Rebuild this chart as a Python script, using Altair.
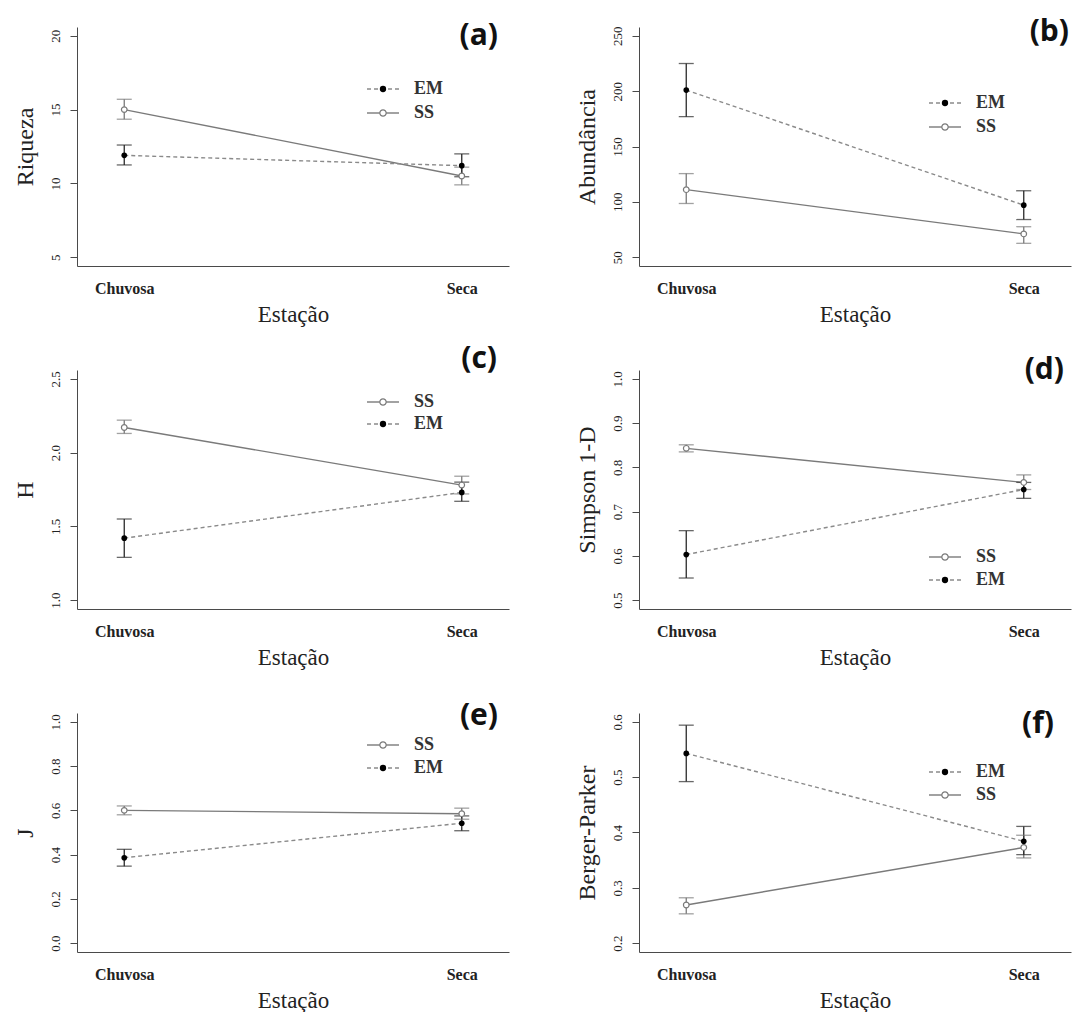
import altair as alt
import pandas as pd

estacoes = ["Chuvosa", "Seca"]
grupos = ["EM", "SS"]

# (a) Riqueza
riq_em = [11.9, 11.2]
riq_em_lo = [11.25, 10.45]
riq_em_hi = [12.6, 12.0]
riq_ss = [15.0, 10.5]
riq_ss_lo = [14.35, 9.9]
riq_ss_hi = [15.7, 11.1]

# (b) Abundância
abu_em = [201, 97]
abu_em_lo = [177, 84]
abu_em_hi = [225, 110]
abu_ss = [111, 71]
abu_ss_lo = [98.5, 62.5]
abu_ss_hi = [125.5, 77.5]

# (c) H
h_em = [1.42, 1.73]
h_em_lo = [1.29, 1.67]
h_em_hi = [1.55, 1.80]
h_ss = [2.17, 1.78]
h_ss_lo = [2.13, 1.72]
h_ss_hi = [2.22, 1.84]

# (d) Simpson 1-D
sim_em = [0.603, 0.750]
sim_em_lo = [0.550, 0.730]
sim_em_hi = [0.657, 0.766]
sim_ss = [0.843, 0.766]
sim_ss_lo = [0.835, 0.750]
sim_ss_hi = [0.851, 0.783]

# (e) J
j_em = [0.386, 0.542]
j_em_lo = [0.348, 0.508]
j_em_hi = [0.424, 0.575]
j_ss = [0.600, 0.585]
j_ss_lo = [0.580, 0.560]
j_ss_hi = [0.620, 0.610]

# (f) Berger-Parker
bp_em = [0.543, 0.384]
bp_em_lo = [0.492, 0.360]
bp_em_hi = [0.594, 0.411]
bp_ss = [0.269, 0.373]
bp_ss_lo = [0.253, 0.354]
bp_ss_hi = [0.282, 0.395]

SERIF = "Liberation Serif"
W, H = 432, 239
SS_COLOR = "#7a7a7a"
EM_LINE = "#8a8a8a"
EM_BAR = "#2a2a2a"
AX = "#4a4a4a"


def make_df(em, em_lo, em_hi, ss, ss_lo, ss_hi):
    rows = []
    for i, e in enumerate(estacoes):
        rows.append({"estacao": e, "grupo": "EM", "media": em[i], "lo": em_lo[i], "hi": em_hi[i]})
        rows.append({"estacao": e, "grupo": "SS", "media": ss[i], "lo": ss_lo[i], "hi": ss_hi[i]})
    return pd.DataFrame(rows)


def panel(df, ytitle, ydomain, yticks, yfmt, letter, letter_xy, legend_order, legend_y):
    xenc = alt.X(
        "estacao:N", sort=estacoes,
        scale=alt.Scale(type="point", padding=0.14),
        axis=alt.Axis(title="Estação", labelAngle=0, ticks=False, tickSize=0,
                      labelPadding=27, labelBaseline="alphabetic", labelFontSize=16,
                      labelFont=SERIF, titleFont=SERIF,
                      labelFontWeight="bold", labelColor="#222",
                      titleY=55, titleBaseline="alphabetic", titleFontSize=23,
                      titleFontWeight="normal", titleColor="#222", grid=False,
                      domainColor=AX),
    )
    ysc = alt.Scale(domain=ydomain, nice=False, zero=False)
    yax = alt.Axis(title=ytitle, values=yticks, format=yfmt, labelAngle=270,
                   labelAlign="center", labelBaseline="alphabetic", tickSize=7,
                   labelPadding=11, labelFontSize=13, labelColor="#222",
                   labelFont=SERIF, titleFont=SERIF,
                   titleX=-45, titleAngle=270, titleBaseline="alphabetic",
                   titleFontSize=24, titleFontWeight="normal", titleColor="#222",
                   grid=False, domainColor=AX, tickColor=AX)

    def Y(field):
        return alt.Y(f"{field}:Q", scale=ysc, axis=yax)

    base = alt.Chart(df)
    em = base.transform_filter(alt.datum.grupo == "EM")
    ss = base.transform_filter(alt.datum.grupo == "SS")

    layers = [
        ss.mark_line(color=SS_COLOR, strokeWidth=1.4).encode(x=xenc, y=Y("media")),
        em.mark_line(color=EM_LINE, strokeWidth=1.4, strokeDash=[4, 3]).encode(x=xenc, y=Y("media")),
        ss.mark_rule(color=SS_COLOR, strokeWidth=1.3).encode(x=xenc, y=Y("lo"), y2="hi:Q"),
        em.mark_rule(color=EM_BAR, strokeWidth=1.3).encode(x=xenc, y=Y("lo"), y2="hi:Q"),
        ss.mark_tick(color=SS_COLOR, size=15, thickness=1.3).encode(x=xenc, y=Y("lo")),
        ss.mark_tick(color=SS_COLOR, size=15, thickness=1.3).encode(x=xenc, y=Y("hi")),
        em.mark_tick(color=EM_BAR, size=15, thickness=1.3).encode(x=xenc, y=Y("lo")),
        em.mark_tick(color=EM_BAR, size=15, thickness=1.3).encode(x=xenc, y=Y("hi")),
        ss.mark_point(shape="circle", filled=True, fill="white", stroke=SS_COLOR,
                      strokeWidth=1.2, size=32, opacity=1).encode(x=xenc, y=Y("media")),
        em.mark_point(shape="circle", filled=True, color="#000", size=32,
                      opacity=1).encode(x=xenc, y=Y("media")),
    ]

    # legend, drawn by hand in R style
    for g, ly in zip(legend_order, legend_y):
        gdf = pd.DataFrame({"grupo": [g]})
        if g == "EM":
            layers.append(alt.Chart(gdf).mark_rule(color=EM_LINE, strokeWidth=1.4, strokeDash=[4, 3]).encode(
                x=alt.value(290), x2=alt.value(322), y=alt.value(ly)))
            layers.append(alt.Chart(gdf).mark_point(shape="circle", filled=True, color="#000", size=40, opacity=1).encode(
                x=alt.value(306), y=alt.value(ly)))
        else:
            layers.append(alt.Chart(gdf).mark_rule(color=SS_COLOR, strokeWidth=1.4).encode(
                x=alt.value(290), x2=alt.value(322), y=alt.value(ly)))
            layers.append(alt.Chart(gdf).mark_point(shape="circle", filled=True, fill="white", stroke=SS_COLOR,
                                                    strokeWidth=1.2, size=40, opacity=1).encode(
                x=alt.value(306), y=alt.value(ly)))
        layers.append(alt.Chart(gdf).mark_text(align="left", baseline="middle", font=SERIF, fontSize=18,
                                               fontWeight="bold", color="#333").encode(
            x=alt.value(337), y=alt.value(ly), text="grupo:N"))

    ldf = pd.DataFrame({"rotulo": [letter]})
    layers.append(alt.Chart(ldf).mark_text(align="right", baseline="middle", font="Open Sans", fontSize=30,
                                           fontWeight="bold", color="#111").encode(
        x=alt.value(letter_xy[0]), y=alt.value(letter_xy[1]), text="rotulo:N"))

    return alt.layer(*layers).properties(width=W, height=H)


pa = panel(make_df(riq_em, riq_em_lo, riq_em_hi, riq_ss, riq_ss_lo, riq_ss_hi),
           "Riqueza", [4.4, 20.6], [5, 10, 15, 20], "d", "(a)", (421, 9), ["EM", "SS"], [62, 86])
pb = panel(make_df(abu_em, abu_em_lo, abu_em_hi, abu_ss, abu_ss_lo, abu_ss_hi),
           "Abundância", [42, 258], [50, 100, 150, 200, 250], "d", "(b)", (430, 5), ["EM", "SS"], [76, 100])
pc = panel(make_df(h_em, h_em_lo, h_em_hi, h_ss, h_ss_lo, h_ss_hi),
           "H", [0.94, 2.56], [1.0, 1.5, 2.0, 2.5], ".1f", "(c)", (420, -11), ["SS", "EM"], [32, 54])
pd_ = panel(make_df(sim_em, sim_em_lo, sim_em_hi, sim_ss, sim_ss_lo, sim_ss_hi),
            "Simpson 1-D", [0.48, 1.02], [0.5, 0.6, 0.7, 0.8, 0.9, 1.0], ".1f", "(d)", (425, 0), ["SS", "EM"], [187, 210])
pe = panel(make_df(j_em, j_em_lo, j_em_hi, j_ss, j_ss_lo, j_ss_hi),
           "J", [-0.04, 1.04], [0.0, 0.2, 0.4, 0.6, 0.8, 1.0], ".1f", "(e)", (421, 3), ["SS", "EM"], [32, 55])
pf = panel(make_df(bp_em, bp_em_lo, bp_em_hi, bp_ss, bp_ss_lo, bp_ss_hi),
           "Berger-Parker", [0.184, 0.616], [0.2, 0.3, 0.4, 0.5, 0.6], ".1f", "(f)", (415, 11), ["EM", "SS"], [59, 82])

chart = alt.concat(pa, pb, pc, pd_, pe, pf, columns=2, bounds="flush",
                   spacing={"row": 104, "column": 130}).properties(
    padding={"left": 5, "top": 9, "right": 5, "bottom": 0},
    background="white"
).configure_view(stroke=None)

chart.save("out.html", embed_options={"renderer": "svg", "actions": False})
